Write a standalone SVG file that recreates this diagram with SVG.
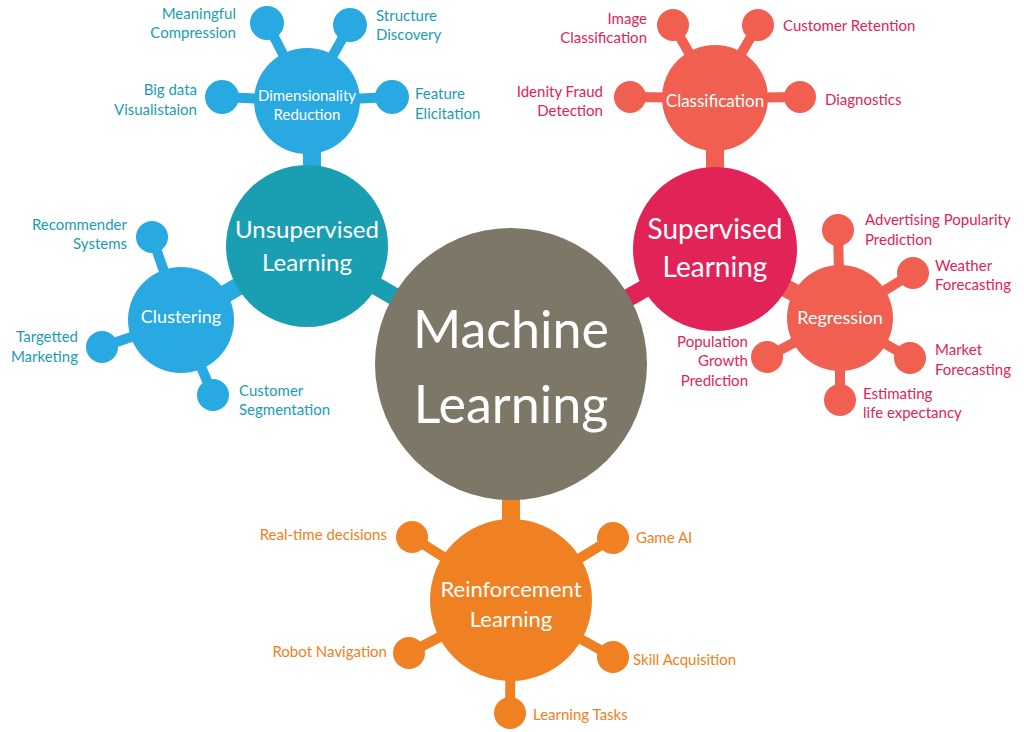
<svg xmlns="http://www.w3.org/2000/svg" width="1024" height="732" viewBox="0 0 1024 732">
<style>
text{font-family:Lato,"Open Sans","DejaVu Sans",sans-serif}
.w{fill:#fff;text-anchor:middle}
.lt{fill:#1b9db2;font-size:15px}
.lp{fill:#e2235a;font-size:15px}
.lo{fill:#f08122;font-size:15px}
.e{text-anchor:end}
.c-ml{fill:#7d7768}
.c-un{fill:#1a9fb2}
.c-bl{fill:#29a9e1}
.c-su{fill:#e22357}
.c-co{fill:#f15f51}
.c-or{fill:#f08122}
.s-un{stroke:#1a9fb2}
.s-bl{stroke:#29a9e1}
.s-su{stroke:#e22357}
.s-co{stroke:#f15f51}
.s-or{stroke:#f08122}
.big{stroke-width:18}
.sm{stroke-width:10}
</style>
<rect width="1024" height="732" fill="#fff"/>
<g id="connectors" fill="none">
<line class="s-un big" x1="307" y1="246" x2="511" y2="364"/>
<line class="s-su big" x1="715" y1="249" x2="511" y2="364"/>
<line class="s-or big" x1="511" y1="364" x2="511" y2="600"/>
<line class="s-bl big" x1="312" y1="101" x2="312" y2="246"/>
<line class="s-bl big" x1="181" y1="320" x2="307" y2="246"/>
<line class="s-co big" x1="715" y1="98" x2="715" y2="249"/>
<line class="s-co big" x1="840" y1="318" x2="715" y2="249"/>
<line class="s-bl sm" x1="307" y1="101" x2="267" y2="23"/>
<line class="s-bl sm" x1="307" y1="101" x2="350" y2="25"/>
<line class="s-bl sm" x1="307" y1="101" x2="222" y2="97"/>
<line class="s-bl sm" x1="307" y1="101" x2="392" y2="97"/>
<line class="s-bl sm" x1="181" y1="320" x2="152" y2="237"/>
<line class="s-bl sm" x1="181" y1="320" x2="102" y2="347"/>
<line class="s-bl sm" x1="181" y1="320" x2="213" y2="395"/>
<line class="s-co sm" x1="715" y1="98" x2="673" y2="25"/>
<line class="s-co sm" x1="715" y1="98" x2="758" y2="25"/>
<line class="s-co sm" x1="715" y1="98" x2="630" y2="97"/>
<line class="s-co sm" x1="715" y1="98" x2="800" y2="97"/>
<line class="s-co sm" x1="840" y1="318" x2="838" y2="230"/>
<line class="s-co sm" x1="840" y1="318" x2="913" y2="273"/>
<line class="s-co sm" x1="840" y1="318" x2="910" y2="358"/>
<line class="s-co sm" x1="840" y1="318" x2="840" y2="400"/>
<line class="s-co sm" x1="840" y1="318" x2="767" y2="357"/>
<line class="s-or sm" x1="511" y1="600" x2="412" y2="537"/>
<line class="s-or sm" x1="511" y1="600" x2="613" y2="538"/>
<line class="s-or sm" x1="511" y1="600" x2="409" y2="653"/>
<line class="s-or sm" x1="511" y1="600" x2="613" y2="657"/>
<line class="s-or sm" x1="511" y1="600" x2="510" y2="713"/>
</g>
<g id="machine-learning">
<circle class="c-ml" cx="511" cy="364" r="136"/>
<text class="w" x="511" y="348" font-size="52">Machine</text>
<text class="w" x="511" y="423" font-size="52">Learning</text>
</g>
<g id="unsupervised">
<circle class="c-un" cx="307" cy="246" r="81"/>
<text class="w" x="307" y="238" font-size="24">Unsupervised</text>
<text class="w" x="307" y="271" font-size="24">Learning</text>
</g>
<g id="dimensionality">
<circle class="c-bl" cx="307" cy="101" r="53"/>
<text class="w" x="307" y="101" font-size="15">Dimensionality</text>
<text class="w" x="307" y="120" font-size="15">Reduction</text>
<circle class="c-bl" cx="267" cy="23" r="17"/>
<circle class="c-bl" cx="350" cy="25" r="17"/>
<circle class="c-bl" cx="222" cy="97" r="17"/>
<circle class="c-bl" cx="392" cy="97" r="17"/>
<text class="lt e" x="236" y="19">Meaningful</text>
<text class="lt e" x="236" y="38">Compression</text>
<text class="lt" x="376" y="21">Structure</text>
<text class="lt" x="376" y="40">Discovery</text>
<text class="lt e" x="197" y="95">Big data</text>
<text class="lt e" x="197" y="115">Visualistaion</text>
<text class="lt" x="415" y="99">Feature</text>
<text class="lt" x="415" y="119">Elicitation</text>
</g>
<g id="clustering">
<circle class="c-bl" cx="181" cy="320" r="53"/>
<text class="w" x="181" y="323" font-size="18">Clustering</text>
<circle class="c-bl" cx="152" cy="237" r="16"/>
<circle class="c-bl" cx="102" cy="347" r="16"/>
<circle class="c-bl" cx="213" cy="395" r="16"/>
<text class="lt e" x="127" y="230">Recommender</text>
<text class="lt e" x="127" y="249">Systems</text>
<text class="lt e" x="78" y="342">Targetted</text>
<text class="lt e" x="78" y="362">Marketing</text>
<text class="lt" x="239" y="396">Customer</text>
<text class="lt" x="239" y="415">Segmentation</text>
</g>
<g id="supervised">
<circle class="c-su" cx="715" cy="249" r="82"/>
<text class="w" x="715" y="239" font-size="28">Supervised</text>
<text class="w" x="715" y="277" font-size="28">Learning</text>
</g>
<g id="classification">
<circle class="c-co" cx="715" cy="98" r="53"/>
<text class="w" x="715" y="107" font-size="17">Classification</text>
<circle class="c-co" cx="673" cy="25" r="16"/>
<circle class="c-co" cx="758" cy="25" r="16"/>
<circle class="c-co" cx="630" cy="97" r="16"/>
<circle class="c-co" cx="800" cy="97" r="16"/>
<text class="lp e" x="647" y="24">Image</text>
<text class="lp e" x="647" y="43">Classification</text>
<text class="lp" x="783" y="31">Customer Retention</text>
<text class="lp e" x="603" y="97">Idenity Fraud</text>
<text class="lp e" x="603" y="116">Detection</text>
<text class="lp" x="825" y="105">Diagnostics</text>
</g>
<g id="regression">
<circle class="c-co" cx="840" cy="318" r="53"/>
<text class="w" x="840" y="324" font-size="18">Regression</text>
<circle class="c-co" cx="838" cy="230" r="16"/>
<circle class="c-co" cx="913" cy="273" r="16"/>
<circle class="c-co" cx="910" cy="358" r="16"/>
<circle class="c-co" cx="840" cy="400" r="16"/>
<circle class="c-co" cx="767" cy="357" r="16"/>
<text class="lp" x="865" y="225">Advertising Popularity</text>
<text class="lp" x="865" y="245">Prediction</text>
<text class="lp" x="935" y="271">Weather</text>
<text class="lp" x="935" y="290">Forecasting</text>
<text class="lp" x="935" y="355">Market</text>
<text class="lp" x="935" y="375">Forecasting</text>
<text class="lp" x="863" y="399">Estimating</text>
<text class="lp" x="863" y="418">life expectancy</text>
<text class="lp e" x="748" y="347">Population</text>
<text class="lp e" x="748" y="366">Growth</text>
<text class="lp e" x="748" y="386">Prediction</text>
</g>
<g id="reinforcement">
<circle class="c-or" cx="511" cy="600" r="81"/>
<text class="w" x="511" y="597" font-size="22">Reinforcement</text>
<text class="w" x="511" y="627" font-size="22">Learning</text>
<circle class="c-or" cx="412" cy="537" r="16"/>
<circle class="c-or" cx="613" cy="538" r="16"/>
<circle class="c-or" cx="409" cy="653" r="16"/>
<circle class="c-or" cx="613" cy="657" r="16"/>
<circle class="c-or" cx="510" cy="713" r="16"/>
<text class="lo e" x="387" y="540">Real-time decisions</text>
<text class="lo" x="636" y="543">Game AI</text>
<text class="lo e" x="387" y="657">Robot Navigation</text>
<text class="lo" x="633" y="665">Skill Acquisition</text>
<text class="lo" x="533" y="720">Learning Tasks</text>
</g>
</svg>
